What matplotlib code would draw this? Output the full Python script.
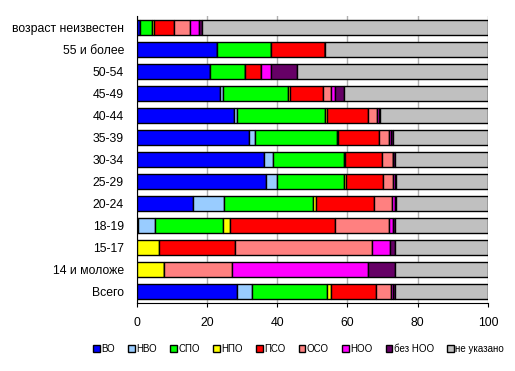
import numpy as np
import matplotlib.pyplot as plt

plt.rcParams['font.family'] = ['Liberation Sans', 'DejaVu Sans']

# категории (сверху вниз)
groups = ['возраст неизвестен', '55 и более', '50-54', '45-49', '40-44', '35-39',
          '30-34', '25-29', '20-24', '18-19', '15-17', '14 и моложе', 'Всего']

levels = ['ВО', 'НВО', 'СПО', 'НПО', 'ПСО', 'ОСО', 'НОО', 'без НОО', 'не указано']
colors = ['#0000FF', '#99CCFF', '#00FF00', '#FFFF00', '#FF0000', '#FF8080',
          '#FF00FF', '#660066', '#C0C0C0']

vo     = [1.1, 23.0, 20.8, 23.7, 27.7, 32.1, 36.4, 36.8, 16.2, 0.3, 0.0, 0.0, 28.7]
nvo    = [0.0, 0.0, 0.0, 1.0, 1.0, 1.5, 2.3, 3.3, 8.8, 5.1, 0.0, 0.0, 4.3]
spo    = [3.4, 15.4, 10.2, 18.5, 25.0, 23.3, 20.2, 19.0, 25.3, 19.3, 0.0, 0.0, 21.3]
npo    = [0.5, 0.0, 0.0, 0.6, 0.6, 0.5, 0.4, 0.6, 0.8, 2.0, 6.5, 7.7, 0.9]
pso    = [5.7, 15.3, 4.3, 9.4, 11.7, 11.7, 10.6, 10.5, 16.6, 29.9, 21.4, 0.0, 13.0]
oso    = [4.4, 0.0, 0.0, 2.0, 2.4, 2.8, 3.1, 2.9, 5.1, 15.1, 39.1, 19.6, 4.3]
noo    = [2.8, 0.0, 3.1, 1.3, 0.6, 0.5, 0.1, 0.5, 0.8, 1.3, 5.1, 38.7, 0.6]
bez    = [0.6, 0.0, 7.4, 2.4, 0.4, 0.5, 0.5, 0.3, 0.3, 0.6, 1.5, 7.4, 0.5]

series = [vo, nvo, spo, npo, pso, oso, noo, bez]
known = np.array(series).sum(axis=0)
series.append(list(100 - known))  # не указано

fig = plt.figure(figsize=(5.15, 3.71), dpi=100)
ax = fig.add_axes([136.5/515, 1 - 303/371, (488 - 136.5)/515, (303 - 16)/371])

y = np.arange(len(groups))[::-1]
left = np.zeros(len(groups))
for vals, lab, c in zip(series, levels, colors):
    vals = np.array(vals)
    ax.barh(y, vals, left=left, height=0.68, color=c, edgecolor='black',
            linewidth=1, label=lab, zorder=3)
    left += vals

ax.set_xlim(0, 100)
ax.set_ylim(-0.5, len(groups) - 0.5)
ax.set_xticks([0, 20, 40, 60, 80, 100])
ax.set_yticks(y)
ax.set_yticklabels(groups)
ax.tick_params(axis='y', length=0, labelsize=8.8, pad=9)
ax.tick_params(axis='x', length=3, labelsize=8.8, pad=7)
ax.grid(axis='x', color='#B0B0B0', linewidth=1, zorder=0)
ax.spines['top'].set_visible(False)
ax.spines['right'].set_visible(False)
ax.spines['left'].set_color('black')
ax.spines['bottom'].set_color('black')

fig.legend(loc='lower center', bbox_to_anchor=(0.580, 0.022), ncol=9, frameon=False,
           fontsize=7, handlelength=0.7, handleheight=0.7, handletextpad=0.15,
           columnspacing=1.35)

fig.savefig('out.png', dpi=100)
